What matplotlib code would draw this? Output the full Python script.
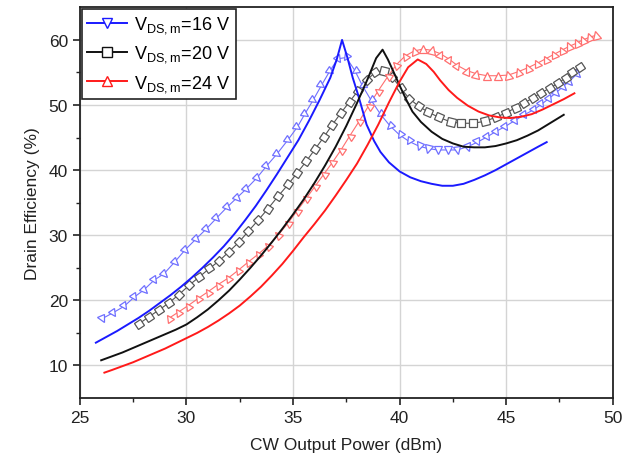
import matplotlib
matplotlib.use("Agg")
import matplotlib.pyplot as plt
import numpy as np
from matplotlib.markers import MarkerStyle
from matplotlib.transforms import Affine2D
from matplotlib.lines import Line2D

plt.rcParams['font.family'] = ['Liberation Sans', 'DejaVu Sans']

# ---- 16 V model (solid) ----
x16_line = [25.75, 26.25, 26.75, 27.25, 27.75, 28.25, 28.75, 29.25, 29.75, 30.25, 30.75, 31.25,
            31.75, 32.25, 32.75, 33.25, 33.75, 34.25, 34.75, 35.25, 35.75, 36.25, 36.75, 37.05,
            37.3, 37.55, 37.8, 38.05, 38.45, 38.8, 39.1, 39.5, 40.0, 40.5, 41.0, 41.5, 42.0,
            42.5, 43.0, 43.5, 44.0, 44.5, 45.0, 45.5, 46.0, 46.5, 46.9]
y16_line = [13.5, 14.4, 15.3, 16.3, 17.3, 18.4, 19.6, 20.8, 22.1, 23.5, 25.0, 26.6,
            28.3, 30.2, 32.3, 34.5, 36.9, 39.4, 42.0, 44.6, 47.6, 50.8, 54.2, 57.0,
            60.0, 57.3, 54.2, 51.6, 47.0, 44.5, 42.8, 41.2, 39.8, 38.9, 38.3, 37.9, 37.6,
            37.6, 37.9, 38.5, 39.2, 40.0, 40.9, 41.8, 42.7, 43.6, 44.3]

# ---- 16 V measured (down triangles) ----
x16_meas = [26.05, 26.56, 27.08, 27.55, 28.0, 28.48, 28.95, 29.45, 29.95, 30.47, 30.94, 31.4,
            31.9, 32.35, 32.8, 33.3, 33.75, 34.25, 34.75, 35.2, 35.55, 35.95, 36.33, 36.72,
            37.1, 37.5, 37.9, 38.25, 38.65, 39.1, 39.55, 40.0, 40.45, 40.9, 41.35, 41.8,
            42.25, 42.7, 43.2, 43.65, 44.1, 44.5, 44.95, 45.4, 45.85, 46.3, 46.65, 47.0,
            47.35, 47.65, 47.95, 48.3]
y16_meas = [17.2, 18.1, 19.1, 20.5, 21.6, 23.1, 24.1, 25.9, 27.8, 29.5, 31.0, 32.6,
            34.3, 35.7, 37.1, 38.8, 40.6, 42.5, 44.6, 46.6, 48.6, 50.8, 53.0, 55.2,
            57.1, 57.3, 55.3, 53.0, 50.8, 48.6, 46.8, 45.4, 44.4, 43.7, 43.3, 43.1,
            43.1, 43.1, 43.6, 44.3, 45.1, 45.9, 46.7, 47.6, 48.5, 49.3, 50.1, 51.0,
            51.9, 52.8, 53.6, 54.7]

# ---- 20 V model (solid) ----
x20_line = [26.0, 26.5, 27.0, 27.5, 28.0, 28.5, 29.0, 29.5, 30.0, 30.5, 31.0, 31.5, 32.0,
            32.5, 33.0, 33.5, 34.0, 34.5, 35.0, 35.5, 36.0, 36.5, 37.0, 37.5, 38.0, 38.5,
            38.9, 39.2, 39.45, 39.7, 40.0, 40.3, 40.6, 41.0, 41.5, 42.0, 42.5, 43.0, 43.5,
            44.0, 44.5, 45.0, 45.5, 46.0, 46.5, 47.0, 47.7]
y20_line = [10.8, 11.4, 12.0, 12.7, 13.4, 14.1, 14.8, 15.5, 16.3, 17.4, 18.6, 20.0, 21.5,
            23.2, 25.0, 26.9, 28.9, 31.0, 33.2, 35.5, 38.0, 40.7, 43.6, 46.8, 50.3, 54.0,
            57.2, 58.5, 57.0, 55.2, 53.0, 50.9, 49.0, 47.4, 45.9, 44.8, 44.1, 43.6, 43.5,
            43.5, 43.7, 44.1, 44.6, 45.3, 46.1, 47.1, 48.5]

# ---- 20 V measured (squares) ----
x20_meas = [27.77, 28.25, 28.7, 29.17, 29.65, 30.12, 30.6, 31.08, 31.55, 32.0, 32.45, 32.9,
            33.36, 33.83, 34.3, 34.77, 35.2, 35.63, 36.05, 36.45, 36.85, 37.25, 37.65, 38.05,
            38.45, 38.85, 39.25, 39.65, 40.05, 40.45, 40.9, 41.35, 41.85, 42.4, 42.9, 43.45,
            44.0, 44.5, 45.0, 45.45, 45.85, 46.25, 46.65, 47.05, 47.45, 47.8, 48.1, 48.45]
y20_meas = [16.4, 17.5, 18.5, 19.6, 20.9, 22.3, 23.6, 24.9, 26.1, 27.5, 28.9, 30.6,
            32.3, 34.1, 36.0, 37.8, 39.6, 41.4, 43.3, 45.1, 47.0, 48.8, 50.5, 52.2,
            53.8, 55.0, 55.3, 54.3, 52.6, 51.0, 49.8, 48.9, 48.1, 47.4, 47.2, 47.2,
            47.5, 48.1, 48.8, 49.6, 50.3, 51.1, 51.9, 52.6, 53.4, 54.2, 55.0, 55.9]

# ---- 24 V model (solid) ----
x24_line = [26.15, 26.5, 27.0, 27.5, 28.0, 28.5, 29.0, 29.5, 30.0, 30.5, 31.0, 31.5, 32.0,
            32.5, 33.0, 33.5, 34.0, 34.5, 35.0, 35.5, 36.0, 36.5, 37.0, 37.5, 38.0, 38.5,
            39.0, 39.5, 40.0, 40.4, 40.85, 41.25, 41.6, 41.9, 42.3, 42.7, 43.2, 43.7, 44.2,
            44.7, 45.2, 45.7, 46.2, 46.7, 47.2, 47.7, 48.2]
y24_line = [8.9, 9.3, 9.9, 10.5, 11.2, 11.9, 12.6, 13.4, 14.2, 15.0, 15.9, 16.9, 18.0,
            19.2, 20.6, 22.1, 23.8, 25.6, 27.6, 29.7, 31.7, 33.8, 36.1, 38.5, 41.0, 43.9,
            47.0, 50.4, 53.6, 55.8, 57.0, 56.3, 55.1, 53.8, 52.3, 51.1, 49.9, 49.0, 48.4,
            48.1, 48.0, 48.2, 48.6, 49.3, 50.1, 50.9, 51.8]

# ---- 24 V measured (up triangles) ----
x24_meas = [29.2, 29.62, 30.08, 30.55, 31.0, 31.47, 31.95, 32.42, 32.9, 33.37, 33.83, 34.3,
            34.77, 35.2, 35.63, 36.05, 36.45, 36.85, 37.25, 37.65, 38.1, 38.55, 39.0, 39.45,
            39.85, 40.25, 40.68, 41.1, 41.5, 41.9, 42.3, 42.7, 43.15, 43.6, 44.1, 44.6,
            45.1, 45.55, 46.0, 46.45, 46.85, 47.25, 47.6, 47.95, 48.3, 48.6, 48.9, 49.2]
y24_meas = [17.3, 18.2, 19.2, 20.3, 21.3, 22.4, 23.4, 24.6, 25.9, 27.1, 28.4, 30.0,
            31.9, 33.8, 35.7, 37.6, 39.4, 41.2, 43.1, 45.2, 47.5, 49.9, 52.2, 54.4,
            56.2, 57.5, 58.3, 58.6, 58.4, 57.9, 57.1, 56.1, 55.3, 54.8, 54.5, 54.5,
            54.6, 55.1, 55.7, 56.4, 57.1, 57.8, 58.4, 59.0, 59.5, 60.0, 60.4, 60.7]

labels = ['16 V', '20 V', '24 V']
x_ticks = [25, 30, 35, 40, 45, 50]
y_ticks = [10, 20, 30, 40, 50, 60]

fig = plt.figure(figsize=(6.24, 4.64), dpi=100)
ax = fig.add_axes([0.128, 0.140, 0.854, 0.842])
ax.set_xlim(25, 50)
ax.set_ylim(5, 65)

series = [
    (x16_line, y16_line, x16_meas, y16_meas, '#1a1aff', '#6f6fff', 'v'),
    (x20_line, y20_line, x20_meas, y20_meas, '#111111', '#555555', 's'),
    (x24_line, y24_line, x24_meas, y24_meas, '#ff1a1a', '#ff6f6f', '^'),
]

for xl, yl, xm, ym, c, mc, mk in series:
    ax.plot(xl, yl, color=c, lw=1.4, zorder=5)
    ax.plot(xm, ym, color=mc, lw=0.8, zorder=2)

# markers rotated along the local direction of the curve
fig.canvas.draw()
for xl, yl, xm, ym, c, mc, mk in series:
    pts = ax.transData.transform(np.column_stack([xm, ym]))
    n = len(pts)
    for i in range(n):
        a = pts[max(i - 1, 0)]
        b = pts[min(i + 1, n - 1)]
        ang = np.degrees(np.arctan2(b[1] - a[1], b[0] - a[0]))
        ms = MarkerStyle(mk, transform=Affine2D().rotate_deg(ang))
        ax.plot([xm[i]], [ym[i]], linestyle='none', marker=ms, markersize=5.6,
                markerfacecolor='white', markeredgecolor=mc, markeredgewidth=0.9,
                zorder=3)

ax.set_xticks(x_ticks)
ax.set_yticks(y_ticks)
ax.set_xticks([27.5, 32.5, 37.5, 42.5, 47.5], minor=True)
ax.set_yticks([15, 25, 35, 45, 55], minor=True)
ax.tick_params(axis='both', which='major', direction='out', length=5, width=1.2,
               labelsize=12.5, colors='#222222')
ax.tick_params(axis='both', which='minor', direction='out', length=3, width=1.0,
               colors='#222222')
ax.grid(True, which='major', color='#d4d4d4', lw=1.0)
ax.set_axisbelow(True)
for s in ax.spines.values():
    s.set_linewidth(1.3)
    s.set_color('#222222')

ax.set_xlabel('CW Output Power (dBm)', fontsize=12.5, color='#222222', labelpad=9)
ax.set_ylabel('Drain Efficiency (%)', fontsize=12.5, color='#222222', labelpad=6)

handles = []
for (xl, yl, xm, ym, c, mc, mk), lab in zip(series, labels):
    handles.append(Line2D([], [], color=c, lw=1.4, marker=mk, markersize=7,
                          markerfacecolor='white', markeredgecolor=c,
                          label=r'V$_\mathregular{DS,m}$=' + lab))
leg = ax.legend(handles=handles, loc='upper left', fontsize=13, frameon=True,
                fancybox=False, framealpha=1, edgecolor='#222222',
                borderaxespad=0.1, handlelength=2.2, handletextpad=0.4,
                labelspacing=0.45, borderpad=0.3)
leg.get_frame().set_linewidth(1.2)
leg.set_zorder(10)

fig.savefig('out.png', dpi=100)
